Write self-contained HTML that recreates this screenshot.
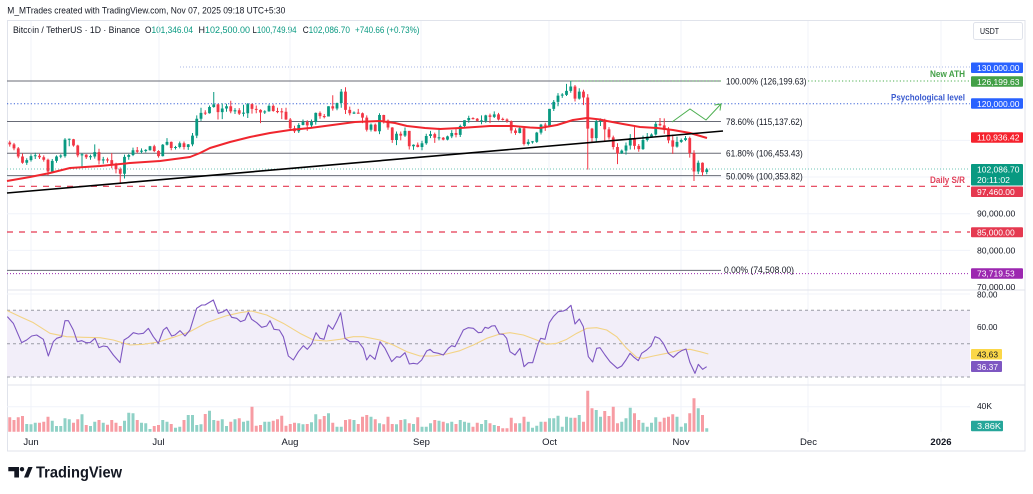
<!DOCTYPE html>
<html><head><meta charset="utf-8"><style>
html,body{margin:0;padding:0;background:#fff;width:1033px;height:494px;overflow:hidden}
svg{display:block;font-family:"Liberation Sans",Arial,sans-serif}
</style></head><body>
<svg width="1033" height="494" viewBox="0 0 1033 494" xmlns="http://www.w3.org/2000/svg">
<rect width="1033" height="494" fill="#fff"/>
<!-- header -->
<text x="7.3" y="13.5" font-size="9" fill="#131722" textLength="278" lengthAdjust="spacingAndGlyphs">M_MTrades created with TradingView.com, Nov 07, 2025 09:18 UTC+5:30</text>
<rect x="7.5" y="20.5" width="1017.5" height="430.5" fill="none" stroke="#e0e3eb" stroke-width="1"/>
<g font-size="8.8" fill="#131722">
<text x="13" y="33" textLength="127" lengthAdjust="spacingAndGlyphs">Bitcoin / TetherUS · 1D · Binance</text>
<text x="145" y="33" textLength="48" lengthAdjust="spacingAndGlyphs">O<tspan fill="#089981">101,346.04</tspan></text>
<text x="198.5" y="33" textLength="51.5" lengthAdjust="spacingAndGlyphs">H<tspan fill="#089981">102,500.00</tspan></text>
<text x="252.5" y="33" textLength="44" lengthAdjust="spacingAndGlyphs">L<tspan fill="#089981">100,749.94</tspan></text>
<text x="302.7" y="33" textLength="47.3" lengthAdjust="spacingAndGlyphs">C<tspan fill="#089981">102,086.70</tspan></text>
<text x="355" y="33" fill="#089981" textLength="64.5" lengthAdjust="spacingAndGlyphs">+740.66 (+0.73%)</text>
</g>
<rect x="973.5" y="22.5" width="49" height="17" rx="2" fill="#fff" stroke="#e0e3eb"/>
<text x="980" y="34" font-size="8.6" fill="#131722" textLength="19" lengthAdjust="spacingAndGlyphs">USDT</text>

<!-- grid -->
<g stroke="#f0f3fa" stroke-width="1">
<line x1="31" y1="21" x2="31" y2="432"/><line x1="159" y1="21" x2="159" y2="432"/>
<line x1="290" y1="21" x2="290" y2="432"/><line x1="421" y1="21" x2="421" y2="432"/>
<line x1="549" y1="21" x2="549" y2="432"/><line x1="681" y1="21" x2="681" y2="432"/>
<line x1="808" y1="21" x2="808" y2="432"/><line x1="941" y1="21" x2="941" y2="432"/>
<line x1="7" y1="140.4" x2="970" y2="140.4"/><line x1="7" y1="177" x2="970" y2="177"/>
<line x1="7" y1="213.7" x2="970" y2="213.7"/><line x1="7" y1="250.4" x2="970" y2="250.4"/>
<line x1="7" y1="294" x2="970" y2="294"/><line x1="7" y1="327" x2="970" y2="327"/>
<line x1="7" y1="360" x2="970" y2="360"/><line x1="7" y1="406.7" x2="970" y2="406.7"/>
</g>
<line x1="7" y1="290" x2="1025" y2="290" stroke="#e0e3eb"/>
<line x1="7" y1="385" x2="1025" y2="385" stroke="#e0e3eb"/>

<!-- price pane horizontal lines -->
<line x1="180" y1="67" x2="970" y2="67" stroke="#a9b7e6" stroke-dasharray="1,2"/>
<g stroke="#686b76" stroke-width="1">
<line x1="7" y1="81" x2="721" y2="81"/>
<line x1="7" y1="121.5" x2="721" y2="121.5"/>
<line x1="7" y1="153.3" x2="721" y2="153.3"/>
<line x1="7" y1="175.6" x2="721" y2="175.6"/>
<line x1="7" y1="270.4" x2="721" y2="270.4"/>
</g>
<line x1="570" y1="81" x2="721" y2="81" stroke="#4caf50" stroke-dasharray="1.2,2.2"/>
<line x1="808" y1="81" x2="970" y2="81" stroke="#4caf50" stroke-dasharray="1.2,2.2"/>
<line x1="7" y1="103.7" x2="970" y2="103.7" stroke="#3a62d8" stroke-dasharray="1.2,2.2"/>
<line x1="7" y1="169" x2="970" y2="169" stroke="#6cc4b6" stroke-dasharray="1,2"/>
<line x1="7" y1="186.3" x2="970" y2="186.3" stroke="#e53950" stroke-width="1.2" stroke-dasharray="6,6"/>
<line x1="7" y1="232" x2="970" y2="232" stroke="#e53950" stroke-width="1.2" stroke-dasharray="6,6"/>
<line x1="7" y1="273.6" x2="970" y2="273.6" stroke="#9c27b0" stroke-dasharray="1,2"/>

<!-- candles: local x = day index, local y = price (k) -->
<g transform="translate(9.75,543.5) scale(4.25,-3.665)" fill="none">
<path stroke="#f23645" stroke-width="0.235" d="M0 109.9V108.3M1 109.3V107.3M2 108.2V105.1M3 106.4V103.6M7 106.3V104.9M8 105.9V104.2M9 105.0V100.4M15 110.4V108.3M16 108.8V105.4M18 106.2V104.9M21 107.7V103.4M23 105.3V103.9M24 106.5V102.4M25 103.9V101.0M26 102.6V98.2M30 108.2V106.5M34 108.8V106.8M35 107.3V105.3M38 109.7V107.3M41 109.7V107.5M46 118.2V116.9M49 120.0V115.7M52 120.8V117.4M54 118.8V116.9M57 120.1V117.3M58 119.5V117.4M59 118.5V114.7M62 119.8V117.8M63 118.9V117.4M64 118.8V115.8M65 118.9V115.6M66 116.1V112.7M67 114.0V112.0M70 115.5V112.6M73 117.9V115.9M74 117.2V116.0M76 122.3V118.1M79 124.5V117.2M80 119.2V116.8M82 118.6V117.3M83 117.6V114.7M84 116.8V112.4M86 114.6V112.4M88 117.0V114.6M89 115.7V112.9M90 113.6V109.3M92 112.4V110.0M94 112.6V107.5M96 109.4V108.1M100 112.1V109.3M102 110.9V110.0M105 113.2V110.8M109 116.3V115.7M110 116.1V115.1M113 117.3V114.7M115 117.5V115.4M116 116.2V115.4M117 116.0V114.8M118 115.4V111.9M119 113.3V111.5M121 113.4V108.6M126 114.8V112.6M133 125.1V120.6M135 123.8V119.6M136 122.6V102.0M137 113.4V109.6M140 115.9V109.9M141 113.6V110.2M142 111.3V107.5M143 109.2V103.5M147 114.0V107.5M148 109.0V106.9M153 116.1V113.8M154 116.0V111.8M155 113.6V109.2M156 111.6V106.3M160 111.0V105.3M161 107.3V98.9M163 104.0V100.3"/>
<path stroke="#089981" stroke-width="0.235" d="M4 105.1V103.3M5 106.2V104.2M6 106.6V104.9M10 104.9V101.1M11 105.9V103.9M12 106.2V105.1M13 110.6V105.3M14 110.5V108.4M17 106.5V102.8M19 106.1V104.7M20 108.9V105.0M22 105.5V103.6M27 106.1V99.6M28 106.3V104.7M29 108.0V105.7M31 107.8V106.4M32 107.6V106.7M33 108.5V107.2M36 109.0V105.6M37 110.6V108.6M39 108.5V107.5M40 109.7V107.8M42 109.0V107.4M43 112.0V108.4M44 116.8V110.6M45 118.9V115.3M47 119.5V117.3M48 123.2V118.9M50 120.1V115.8M51 120.0V117.8M53 118.8V117.2M55 119.7V116.5M56 120.2V116.1M60 118.2V117.2M61 119.8V117.8M68 114.7V112.0M69 115.7V114.1M71 115.7V113.4M72 117.6V114.3M75 119.3V116.5M77 120.3V118.2M78 124.0V118.9M81 117.9V117.2M85 114.6V112.4M87 117.4V111.7M91 112.4V108.7M93 113.5V110.9M95 108.9V107.4M97 109.9V107.3M98 111.8V108.8M99 112.6V110.6M101 113.4V110.0M103 111.3V110.0M104 112.8V110.6M106 114.3V110.9M107 115.5V113.4M108 116.7V114.8M111 116.8V114.4M112 117.0V114.8M114 117.9V116.1M120 113.9V111.9M122 110.3V108.6M123 109.8V109.1M124 112.3V109.3M125 114.5V111.6M127 118.6V113.9M128 121.0V118.0M129 122.9V119.3M130 122.9V121.6M131 125.4V122.1M132 126.2V123.0M134 124.2V121.1M138 115.8V109.7M139 116.0V113.9M144 107.5V106.3M145 109.4V106.1M146 111.7V107.5M149 111.3V107.4M150 112.0V109.7M151 111.9V110.9M152 115.0V111.3M157 111.0V108.0M158 110.5V109.3M159 111.2V109.8M162 104.5V100.8M164 102.5V100.75"/>
<path stroke="#f23645" stroke-width="0.66" d="M0 109.4V108.9M1 108.9V107.8M2 107.8V105.6M3 105.6V103.9M7 105.8V105.4M8 105.4V104.7M9 104.7V101.5M15 110.3V108.6M16 108.6V105.9M18 106.1V105.4M21 106.8V104.5M23 104.8V104.5M24 104.6V103.3M25 103.3V102.1M26 102.1V100.9M30 107.3V106.9M34 108.4V107.1M35 107.1V105.7M38 109.6V107.9M41 109.2V108.2M46 117.55V117.3M49 119.8V117.7M52 119.3V117.9M54 118.2V117.3M57 119.9V118.6M58 118.6V118.3M59 118.3V117.6M62 119.4V118.0M63 118.0V117.7M64 117.95V117.65M65 117.8V115.7M66 115.7V113.3M67 113.3V112.5M70 115.0V114.1M73 117.5V116.6M74 116.65V116.35M76 119.3V118.7M79 123.3V118.3M80 118.3V117.4M82 117.55V117.25M83 117.4V116.2M84 116.2V112.9M86 114.3V112.5M88 116.9V115.4M89 115.4V113.5M90 113.5V110.1M92 111.8V111.3M94 112.6V108.4M96 108.8V108.2M100 111.7V110.7M102 110.7V110.2M105 112.0V111.5M109 116.1V115.8M110 115.9V115.3M113 116.8V116.4M115 117.1V115.7M116 115.85V115.55M117 115.7V115.2M118 115.2V112.7M119 112.7V112.0M121 113.3V109.0M126 114.3V114.0M133 124.7V121.4M135 123.3V121.7M136 121.7V113.2M137 113.2V110.6M140 115.3V113.0M141 113.0V110.8M142 110.8V108.2M143 108.2V106.4M147 110.6V108.5M148 108.5V107.6M153 114.5V114.1M154 114.1V112.9M155 112.9V110.0M156 110.0V108.3M160 110.6V106.5M161 106.5V101.5M163 103.9V101.3"/>
<path stroke="#089981" stroke-width="0.66" d="M4 103.9V104.6M5 104.6V105.7M6 105.65V105.95M10 101.5V104.4M11 104.4V105.6M12 105.55V105.85M13 105.7V110.2M14 110.15V110.45M17 105.9V106.2M19 105.4V105.7M20 105.6V106.8M22 104.5V104.8M27 100.9V105.5M28 105.5V106.0M29 106.0V107.3M31 106.9V107.2M32 107.1V107.4M33 107.3V108.4M36 105.7V108.8M37 108.8V109.6M39 107.9V108.2M40 108.2V109.2M42 108.2V108.9M43 108.9V111.3M44 111.3V115.9M45 115.9V117.5M47 117.4V119.1M48 119.1V119.8M50 117.7V118.7M51 118.7V119.3M53 117.9V118.2M55 117.25V117.55M56 117.4V119.9M60 117.6V117.9M61 117.9V119.4M68 112.5V114.2M69 114.2V115.0M71 114.1V115.0M72 115.0V117.5M75 116.5V119.3M77 118.7V120.2M78 120.2V123.3M81 117.3V117.6M85 112.9V114.3M87 112.5V116.9M91 110.1V111.8M93 111.3V112.6M95 108.4V108.8M97 108.2V109.2M98 109.2V111.2M99 111.2V111.7M101 110.55V110.85M103 110.2V111.1M104 111.1V112.0M106 111.5V113.9M107 113.9V115.5M108 115.5V116.1M111 115.15V115.45M112 115.3V116.8M114 116.4V117.1M120 112.0V113.3M122 109.0V109.6M123 109.45V109.75M124 109.6V112.1M125 112.1V114.3M127 114.0V118.6M128 118.6V120.5M129 120.5V122.2M130 122.2V122.5M131 122.4V123.5M132 123.5V124.7M134 121.4V123.3M138 110.6V115.2M139 115.1V115.4M144 106.4V107.2M145 107.2V108.6M146 108.6V110.6M149 107.6V110.1M150 110.1V111.0M151 111.0V111.6M152 111.6V114.5M157 108.3V109.6M158 109.6V110.1M159 110.1V110.6M162 101.5V103.9M164 101.35V102.09"/>
</g>

<!-- EMA -->
<polyline fill="none" stroke="#f0262e" stroke-width="2" stroke-linejoin="round" points="7,181 30,177 50,173 70,168 100,166 130,163 160,161 190,157 200,153 210,148 230,142 250,137 270,133 290,130 310,128 340,124 355,122 380,121 395,123 407,126 425,128 440,129 460,128 490,126 513,126 530,127.5 540,128 557,125 573,120 587,118 600,119.5 607,121 623,124 640,127 657,128 673,130 690,133 707,138"/>
<line x1="7" y1="193" x2="723" y2="131" stroke="#000" stroke-width="1.6"/>
<polyline fill="none" stroke="#4caf50" stroke-width="1" points="672,122 690,109 706,120 721,104"/>
<polyline fill="none" stroke="#4caf50" stroke-width="1" points="714.5,105 721,104 720,110.5"/>

<!-- fib labels -->
<g font-size="8.8" fill="#131722">
<text x="726" y="84.5" textLength="80.5" lengthAdjust="spacingAndGlyphs">100.00% (126,199.63)</text>
<text x="726" y="125" textLength="76.5" lengthAdjust="spacingAndGlyphs">78.60% (115,137.62)</text>
<text x="726" y="156.5" textLength="76.7" lengthAdjust="spacingAndGlyphs">61.80% (106,453.43)</text>
<text x="726" y="179.3" textLength="76.7" lengthAdjust="spacingAndGlyphs">50.00% (100,353.82)</text>
<text x="724" y="273" textLength="70" lengthAdjust="spacingAndGlyphs">0.00% (74,508.00)</text>
</g>
<text x="930" y="77" font-size="9" font-weight="bold" fill="#43a047" textLength="35" lengthAdjust="spacingAndGlyphs">New ATH</text>
<text x="891" y="100.5" font-size="9" font-weight="bold" fill="#3a5bd0" textLength="74" lengthAdjust="spacingAndGlyphs">Psychological level</text>
<text x="930" y="183" font-size="9" font-weight="bold" fill="#e0405a" textLength="35" lengthAdjust="spacingAndGlyphs">Daily S/R</text>

<!-- RSI pane -->
<rect x="7" y="310.3" width="963" height="66.7" fill="#f2eef9"/>
<g stroke="#9a9ca6" stroke-dasharray="3,3" stroke-width="1">
<line x1="7" y1="310.3" x2="970" y2="310.3"/>
<line x1="7" y1="343.7" x2="970" y2="343.7"/>
<line x1="7" y1="377" x2="970" y2="377"/>
</g>
<g transform="translate(0,280) scale(0.333333)" fill="none" stroke-linejoin="round">
<polyline stroke="#f3d385" stroke-width="3.3" points="22,92 60,110 100,128 150,160 200,170 250,172 300,173 340,180 390,195 430,193 475,186 520,172 570,155 620,128 680,107 720,98 755,93 800,105 850,130 900,160 940,180 980,183 1020,178 1060,170 1090,170 1140,180 1180,195 1220,215 1260,228 1300,228 1340,222 1380,212"/>
<polyline stroke="#7e57c2" stroke-width="3.3" points="22,110 40,130 65,188 80,180 95,168 110,165 130,178 145,228 160,185 170,175 185,170 195,122 205,122 220,150 232,185 245,182 258,188 270,188 285,175 297,203 310,198 322,200 340,225 360,248 372,180 385,172 400,158 415,162 430,160 445,145 460,170 475,190 490,150 500,142 515,168 525,165 540,152 555,168 570,150 590,85 605,75 615,75 640,60 655,100 670,95 680,88 695,112 710,115 722,125 735,120 745,97 755,118 770,128 785,142 800,138 810,122 822,148 838,150 850,170 865,228 880,240 895,215 910,197 922,208 935,192 948,158 960,175 972,178 985,135 998,148 1010,125 1022,98 1035,175 1050,185 1075,185 1090,205 1100,240 1110,225 1125,238 1140,185 1155,205 1175,245 1190,230 1200,232 1215,218 1228,252 1240,250 1252,252 1265,240 1280,213 1290,208 1300,217 1315,220 1330,225 1345,205 1355,197 1365,200 1375,180 1385,160"/>
</g>
<g transform="translate(460,280) scale(0.333333)" fill="none" stroke-linejoin="round">
<polyline stroke="#f3d385" stroke-width="3.3" points="0,212 40,195 80,175 120,162 150,158 190,165 230,180 260,193 290,190 320,178 350,160 380,145 410,143 440,150 470,170 500,205 530,232 550,235 580,228 620,220 660,210 690,208 720,215 745,222"/>
<polyline stroke="#7e57c2" stroke-width="3.3" points="5,160 10,150 25,143 40,145 55,158 65,157 75,142 85,145 95,138 105,137 118,162 130,163 140,175 150,215 165,225 180,205 192,260 205,248 218,248 235,190 242,175 255,178 268,128 280,110 295,95 310,93 320,88 333,76 345,132 358,117 370,140 385,230 398,246 410,205 420,203 435,225 450,245 472,265 485,258 498,240 510,220 522,232 535,242 545,220 560,210 573,198 585,170 598,175 610,190 625,220 640,232 655,218 665,212 678,207 690,248 705,280 715,253 728,268 740,260"/>
</g>

<!-- volume: local x = day index, local y = bar height px -->
<g transform="translate(9.75,431.7) scale(4.25,-1)" fill="none" stroke-width="0.7">
<path stroke="#f79ca3" d="M0 0V14.4M1 0V11.7M2 0V14.4M3 0V15.7M7 0V9M8 0V10M9 0V15M15 0V9M16 0V12.4M18 0V6.7M21 0V11.7M23 0V7M24 0V11.7M25 0V9M26 0V5.7M30 0V11.7M34 0V5.7M35 0V6.7M38 0V7.7M41 0V11.7M46 0V17.7M49 0V11M52 0V10M54 0V13.4M57 0V25M58 0V6M59 0V6.7M62 0V11M63 0V12.4M64 0V16M65 0V6M66 0V7.7M67 0V9M70 0V7.7M73 0V12.4M74 0V15.7M76 0V9M79 0V11.7M80 0V12.4M82 0V7.7M83 0V15M84 0V16.7M86 0V12.4M88 0V7.4M89 0V15M90 0V7.7M92 0V11.7M94 0V8.4M96 0V14.4M100 0V11.7M102 0V10M105 0V7.7M109 0V5M110 0V9M113 0V8.4M115 0V5.7M116 0V3.4M117 0V3.4M118 0V14M119 0V8.4M121 0V15M126 0V10M133 0V14M135 0V10M136 0V41M137 0V23.4M140 0V20.7M141 0V15.7M142 0V25M143 0V8.4M147 0V18.4M148 0V11.7M153 0V10M154 0V14M155 0V15M156 0V17.4M160 0V18.4M161 0V33.4M163 0V16.7"/>
<path stroke="#8fd1c6" d="M4 0V7.7M5 0V7.4M6 0V9M10 0V11M11 0V5.7M12 0V5.7M13 0V13.4M14 0V12.4M17 0V17.4M19 0V5.7M20 0V10M22 0V9M27 0V11M28 0V19M29 0V18.4M31 0V9M32 0V8.4M33 0V2.7M36 0V11.7M37 0V10M39 0V4M40 0V5M42 0V16.7M43 0V16.7M44 0V6.7M45 0V7.4M47 0V21M48 0V11.7M50 0V12.4M51 0V5.7M53 0V12.4M55 0V10M56 0V11M60 0V10M61 0V10M68 0V8.4M69 0V7.4M71 0V9.4M72 0V17.4M75 0V18.4M77 0V5M78 0V5M81 0V11.7M85 0V15M87 0V8.4M91 0V7.4M93 0V12.4M95 0V7.7M97 0V5M98 0V5M99 0V8.4M101 0V11M103 0V8.4M104 0V10M106 0V11.7M107 0V10M108 0V9M111 0V7.7M112 0V11.7M114 0V6.7M120 0V8.4M122 0V10M123 0V4M124 0V6M125 0V10M127 0V13.4M128 0V13.4M129 0V16M130 0V5M131 0V15M132 0V14M134 0V16.7M138 0V21.7M139 0V15M144 0V10M145 0V13.4M146 0V24M149 0V9M150 0V5M151 0V9M152 0V14.4M157 0V15M158 0V5M159 0V8.4M162 0V23.4M164 0V3.4"/>
</g>

<!-- right axis -->
<line x1="1025" y1="20" x2="1025" y2="451" stroke="#e0e3eb"/>
<g font-size="8.6" fill="#131722">
<text x="977" y="216.5" textLength="38.3" lengthAdjust="spacingAndGlyphs">90,000.00</text>
<text x="977" y="253.3" textLength="38.3" lengthAdjust="spacingAndGlyphs">80,000.00</text>
<text x="977" y="290" textLength="38.3" lengthAdjust="spacingAndGlyphs">70,000.00</text>
<text x="977" y="297.5" textLength="20.5" lengthAdjust="spacingAndGlyphs">80.00</text>
<text x="977" y="330" textLength="20.5" lengthAdjust="spacingAndGlyphs">60.00</text>
<text x="977" y="409" textLength="15" lengthAdjust="spacingAndGlyphs">40K</text>
</g>
<g font-size="8.6" fill="#fff">
<rect x="971" y="62.5" width="52" height="10.5" rx="1" fill="#2962ff"/>
<text x="977" y="71" textLength="42.5" lengthAdjust="spacingAndGlyphs">130,000.00</text>
<rect x="971" y="76.3" width="52" height="10.5" rx="1" fill="#43a047"/>
<text x="977" y="84.8" textLength="42.5" lengthAdjust="spacingAndGlyphs">126,199.63</text>
<rect x="971" y="98.3" width="52" height="10.5" rx="1" fill="#2962ff"/>
<text x="977" y="106.8" textLength="42.5" lengthAdjust="spacingAndGlyphs">120,000.00</text>
<rect x="971" y="132.2" width="52" height="10.5" rx="1" fill="#f5222d"/>
<text x="977" y="140.7" textLength="42.5" lengthAdjust="spacingAndGlyphs">110,936.42</text>
<rect x="971" y="164" width="52" height="21.5" rx="1" fill="#089981"/>
<text x="977" y="172.6" textLength="42.5" lengthAdjust="spacingAndGlyphs">102,086.70</text>
<text x="977" y="183" textLength="33" lengthAdjust="spacingAndGlyphs">20:11:02</text>
<rect x="971" y="186.5" width="52" height="10.5" rx="1" fill="#e53950"/>
<text x="977" y="195" textLength="37.7" lengthAdjust="spacingAndGlyphs">97,460.00</text>
<rect x="971" y="227.2" width="52" height="10" rx="1" fill="#e53950"/>
<text x="977" y="235.5" textLength="37.7" lengthAdjust="spacingAndGlyphs">85,000.00</text>
<rect x="971" y="268.2" width="52" height="10.5" rx="1" fill="#9c27b0"/>
<text x="977" y="276.7" textLength="37.7" lengthAdjust="spacingAndGlyphs">73,719.53</text>
<rect x="971" y="349" width="31" height="10.5" rx="1" fill="#fbd748"/>
<text x="977" y="357.5" fill="#131722" textLength="21" lengthAdjust="spacingAndGlyphs">43.63</text>
<rect x="971" y="361" width="31" height="11" rx="1" fill="#7e57c2"/>
<text x="977" y="369.8" textLength="21" lengthAdjust="spacingAndGlyphs">36.37</text>
<rect x="971" y="420.7" width="32" height="10.5" rx="1" fill="#26a69a"/>
<text x="977" y="429.2" textLength="24" lengthAdjust="spacingAndGlyphs">3.86K</text>
</g>

<!-- time axis -->
<g font-size="9.5" fill="#131722" text-anchor="middle">
<text x="31" y="445">Jun</text>
<text x="158.5" y="445">Jul</text>
<text x="290" y="445">Aug</text>
<text x="421.5" y="445">Sep</text>
<text x="549.5" y="445">Oct</text>
<text x="681" y="445">Nov</text>
<text x="808.5" y="445">Dec</text>
<text x="941" y="445" font-weight="bold">2026</text>
</g>

<!-- logo -->
<path d="M8.3 467 H19 V477.5 H14.3 V471.3 H8.3 Z" fill="#131722"/>
<circle cx="22" cy="469.2" r="2.2" fill="#131722"/>
<path d="M24 477.5 L28.3 467 H32.6 L28.3 477.5 Z" fill="#131722"/>
<text x="36" y="477.5" font-size="16" font-weight="bold" fill="#131722" textLength="86" lengthAdjust="spacingAndGlyphs">TradingView</text>
</svg>
</body></html>
